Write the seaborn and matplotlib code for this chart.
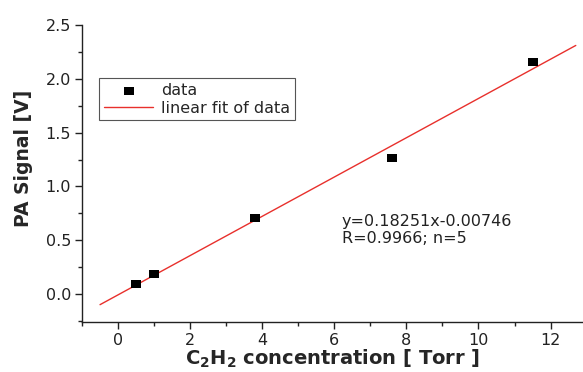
import numpy as np
import pandas as pd
import matplotlib
matplotlib.use("Agg")
import matplotlib.pyplot as plt
import seaborn as sns
from matplotlib.ticker import MultipleLocator

# data
conc = [0.5, 1.0, 3.8, 7.6, 11.5]
signal = [0.09, 0.19, 0.71, 1.26, 2.16]
fit_x = [-0.5, 12.7]
fit_y = [-0.099, 2.310]
fit_text = ["y=0.18251x-0.00746", "R=0.9966; n=5"]

sns.set_theme(style="ticks")
plt.rcParams['font.family'] = ['DejaVu Sans']
plt.rcParams['mathtext.fontset'] = 'dejavusans'

fig = plt.figure(figsize=(5.83, 3.72), dpi=100)
ax = fig.add_axes([82/583, 1-322/372, 1-82/583, (322-25)/372])

df = pd.DataFrame({"x": conc, "y": signal})
fdf = pd.DataFrame({"x": fit_x, "y": fit_y})

rect = [(-1.3, -1), (1.3, -1), (1.3, 1), (-1.3, 1), (-1.3, -1)]
sns.lineplot(data=fdf, x="x", y="y", ax=ax, color="#e8302c", lw=1.0,
             label="linear fit of data", zorder=2)
sns.scatterplot(data=df, x="x", y="y", ax=ax, marker=rect, s=55, color="black",
                edgecolor="black", linewidth=0, label="data", zorder=3)

ax.set_xlim(-1.0, 12.9)
ax.set_ylim(-0.26, 2.5)
ax.xaxis.set_major_locator(MultipleLocator(2))
ax.xaxis.set_minor_locator(MultipleLocator(1))
ax.yaxis.set_major_locator(MultipleLocator(0.5))
ax.yaxis.set_minor_locator(MultipleLocator(0.25))
ax.yaxis.set_major_formatter(matplotlib.ticker.FormatStrFormatter('%.1f'))
ax.tick_params(which='major', direction='out', length=5, width=1, colors='#222222',
               labelsize=11.5, labelcolor='#222222', pad=3)
ax.tick_params(which='minor', direction='out', length=3, width=1, colors='#222222')
for s in ['top', 'right']:
    ax.spines[s].set_visible(False)
for s in ['left', 'bottom']:
    ax.spines[s].set_color('#222222')
    ax.spines[s].set_linewidth(1)

ax.set_ylabel("PA Signal [V]", fontsize=13.5, fontweight='bold')
ax.yaxis.set_label_coords(-0.097, 0.55)
ax.set_xlabel(r"C$_\mathbf{2}$H$_\mathbf{2}$ concentration [ Torr ]", fontsize=14,
              fontweight='bold', labelpad=0)

h, l = ax.get_legend_handles_labels()
order = [l.index("data"), l.index("linear fit of data")]
leg = ax.legend([h[i] for i in order], [l[i] for i in order],
                loc='upper left', bbox_to_anchor=(0.034, 0.82), fontsize=11.5,
                frameon=True, fancybox=False, edgecolor='#555555', framealpha=1,
                handlelength=3.1, borderpad=0.3, labelspacing=0.15, handletextpad=0.5,
                borderaxespad=0)
leg.get_frame().set_linewidth(0.8)

ax.text(6.2, 0.74, fit_text[0] + "\n" + fit_text[1], fontsize=11.5, color='#222222',
        va='top', ha='left', linespacing=1.1)

fig.savefig("out.png", dpi=100)
